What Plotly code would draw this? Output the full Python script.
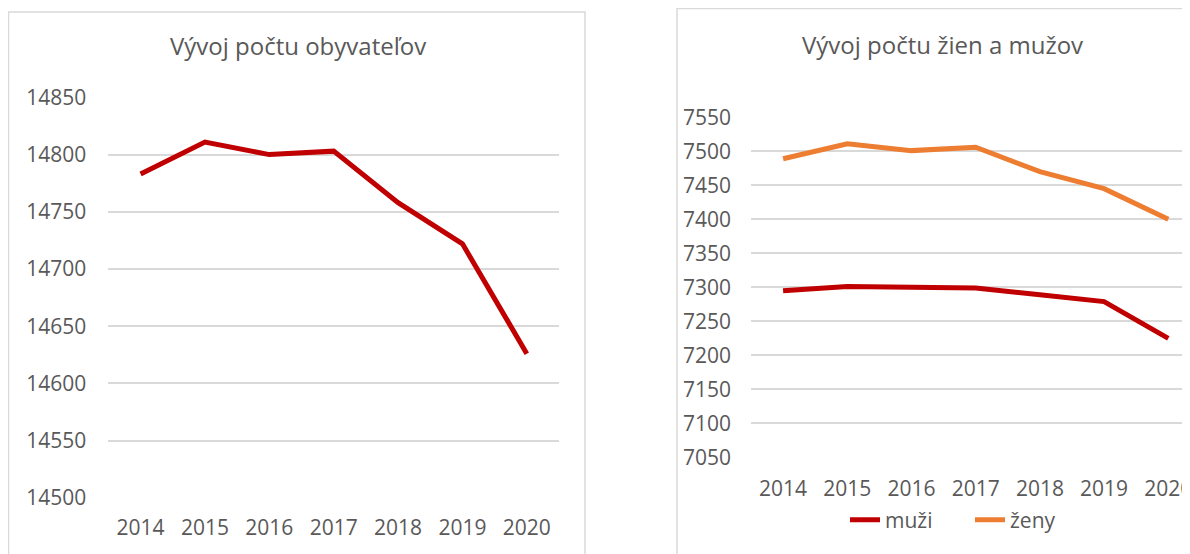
import plotly.graph_objects as go

# ---- data ----
years = ["2014", "2015", "2016", "2017", "2018", "2019", "2020"]
obyvatelia = [14783, 14811, 14800, 14803, 14758, 14722, 14626]
muzi = [7295, 7301, 7300, 7299, 7289, 7279, 7225]
zeny = [7489, 7511, 7501, 7506, 7470, 7445, 7400]
left_ticks = [14500, 14550, 14600, 14650, 14700, 14750, 14800, 14850]
right_ticks = [7050, 7100, 7150, 7200, 7250, 7300, 7350, 7400, 7450, 7500, 7550]

# page has an 8px body margin; the figure fills the rest of the window
OFF = 8
W, H = 1190 - OFF, 554 - OFF
FONT = "Open Sans"
TXT = "#595959"
GRID = "#d9d9d9"
RED = "#c00000"
ORANGE = "#ed7d31"


def px_x(p):
    return (p - OFF) / W


def px_y(p):
    return 1 - (p - OFF) / H


fig = go.Figure()
fig.add_trace(go.Scatter(x=years, y=obyvatelia, mode="lines", showlegend=False,
                         line=dict(color=RED, width=5), xaxis="x", yaxis="y"))
fig.add_trace(go.Scatter(x=years, y=muzi, mode="lines", name="muži",
                         line=dict(color=RED, width=5), xaxis="x2", yaxis="y2"))
fig.add_trace(go.Scatter(x=years, y=zeny, mode="lines", name="ženy",
                         line=dict(color=ORANGE, width=5), xaxis="x2", yaxis="y2"))

axis_common = dict(showline=False, zeroline=False, ticks="", automargin=False,
                   tickfont=dict(family=FONT, size=21, color=TXT))

right_x0 = 751
fig.update_layout(
    template="none",
    width=W, height=H, autosize=False,
    margin=dict(l=0, r=0, t=0, b=0, pad=0, autoexpand=False),
    paper_bgcolor="white", plot_bgcolor="white",
    font=dict(family=FONT, color=TXT),
    xaxis=dict(domain=[px_x(108.4), px_x(559)], type="category", range=[-0.5, 6.5],
               showgrid=False, anchor="y", ticklabelstandoff=15, **axis_common),
    yaxis=dict(domain=[px_y(497.8), px_y(97.4)], range=[14500, 14850],
               tickvals=left_ticks, tickformat="d", showgrid=True, gridcolor=GRID,
               gridwidth=1.5, anchor="x", ticklabelstandoff=21, **axis_common),
    xaxis2=dict(domain=[px_x(right_x0), 1.0], type="category",
                range=[-0.5, -0.5 + (1190 - right_x0) / 64.2],
                showgrid=False, anchor="y2", ticklabelstandoff=17, **axis_common),
    yaxis2=dict(domain=[px_y(457.3), px_y(117.3)], range=[7050, 7550],
                tickvals=right_ticks, tickformat="d", showgrid=True, gridcolor=GRID,
                gridwidth=1.5, anchor="x2", ticklabelstandoff=19, **axis_common),
    legend=dict(orientation="h", x=px_x(845), y=px_y(520), xanchor="left",
                yanchor="middle", font=dict(family=FONT, size=21, color=TXT),
                bgcolor="rgba(0,0,0,0)", itemwidth=30,
                entrywidth=80, entrywidthmode="pixels"),
    annotations=[
        dict(text="Vývoj počtu obyvateľov", x=px_x(298), y=px_y(46), xref="paper",
             yref="paper", showarrow=False, xanchor="center", yanchor="middle",
             font=dict(family=FONT, size=24, color=TXT)),
        dict(text="Vývoj počtu žien a mužov", x=px_x(942), y=px_y(45), xref="paper",
             yref="paper", showarrow=False, xanchor="center", yanchor="middle",
             font=dict(family=FONT, size=24, color=TXT)),
    ],
    shapes=[
        dict(type="rect", xref="paper", yref="paper", x0=px_x(8.5), x1=px_x(585),
             y0=-0.05, y1=px_y(12), line=dict(color=GRID, width=1.5), layer="below"),
        dict(type="rect", xref="paper", yref="paper", x0=px_x(677), x1=1.05,
             y0=-0.05, y1=px_y(8.5), line=dict(color=GRID, width=1.5), layer="below"),
    ],
)

fig.write_html("out.html")
